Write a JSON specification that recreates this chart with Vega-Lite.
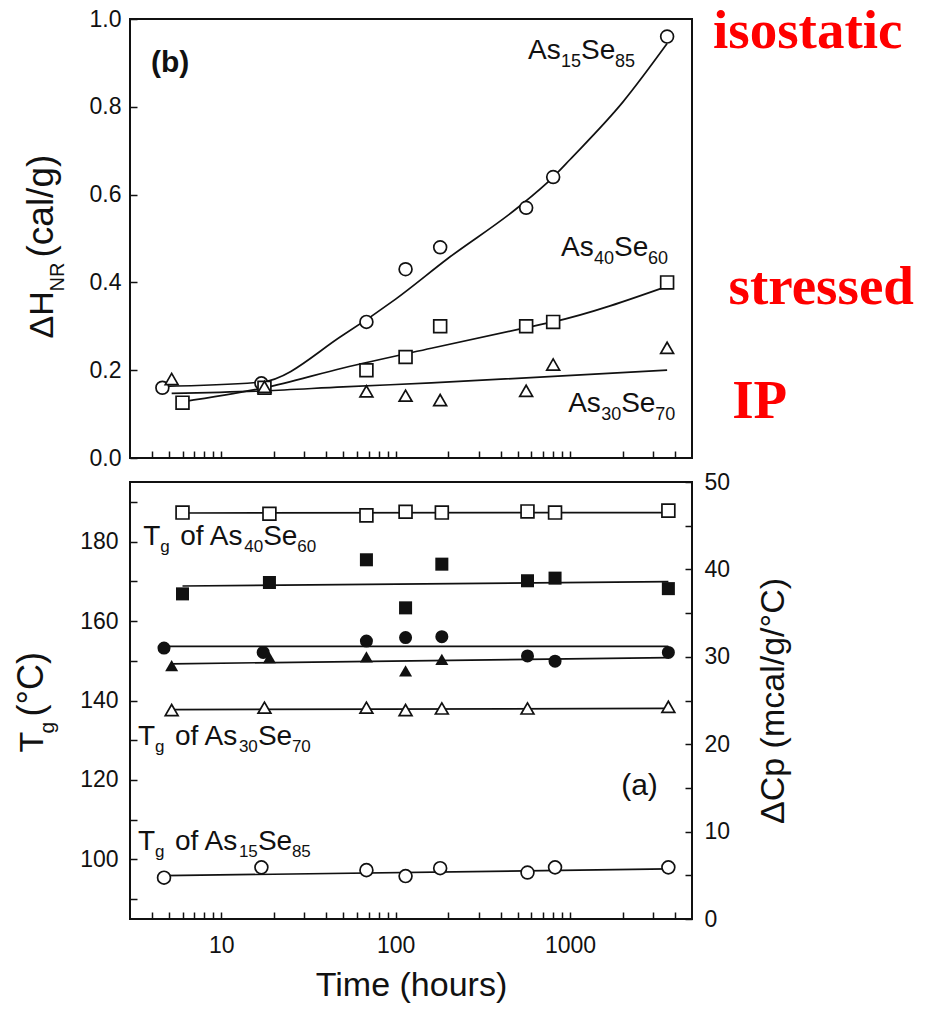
{
  "$schema": "https://vega.github.io/schema/vega-lite/v6.json",
  "background": "white",
  "padding": {"left": 12, "top": 2, "right": 5, "bottom": 3},
  "spacing": 24,
  "bounds": "flush",
  "config": {
    "font": "Liberation Sans",
    "view": {"stroke": "#111", "strokeWidth": 2},
    "axis": {
      "grid": false,
      "domain": false,
      "offset": -7,
      "tickColor": "#111",
      "tickSize": 7,
      "tickWidth": 1.5,
      "labelFont": "Liberation Sans",
      "labelFontSize": 23,
      "labelColor": "#111",
      "labelPadding": 12,
      "titleFont": "Liberation Sans",
      "titleFontSize": 34,
      "titleFontWeight": "normal",
      "titleColor": "#111"
    }
  },
  "datasets": {
    "dh": [
      {"series": "As15Se85", "time": 4.6, "dh": 0.16},
      {"series": "As15Se85", "time": 17, "dh": 0.17},
      {"series": "As15Se85", "time": 68, "dh": 0.31},
      {"series": "As15Se85", "time": 114, "dh": 0.43},
      {"series": "As15Se85", "time": 180, "dh": 0.48},
      {"series": "As15Se85", "time": 560, "dh": 0.57},
      {"series": "As15Se85", "time": 800, "dh": 0.64},
      {"series": "As15Se85", "time": 3600, "dh": 0.96},
      {"series": "As40Se60", "time": 6, "dh": 0.126},
      {"series": "As40Se60", "time": 17.7, "dh": 0.16},
      {"series": "As40Se60", "time": 68, "dh": 0.2},
      {"series": "As40Se60", "time": 114, "dh": 0.23},
      {"series": "As40Se60", "time": 180, "dh": 0.3},
      {"series": "As40Se60", "time": 560, "dh": 0.3},
      {"series": "As40Se60", "time": 800, "dh": 0.31},
      {"series": "As40Se60", "time": 3600, "dh": 0.4},
      {"series": "As30Se70", "time": 5.2, "dh": 0.18},
      {"series": "As30Se70", "time": 17.7, "dh": 0.162},
      {"series": "As30Se70", "time": 68, "dh": 0.152},
      {"series": "As30Se70", "time": 114, "dh": 0.142},
      {"series": "As30Se70", "time": 180, "dh": 0.132},
      {"series": "As30Se70", "time": 560, "dh": 0.153},
      {"series": "As30Se70", "time": 800, "dh": 0.213},
      {"series": "As30Se70", "time": 3600, "dh": 0.251}
    ],
    "dhfit": [
      {"series": "As15Se85", "time": 4.6, "dh": 0.163},
      {"series": "As15Se85", "time": 17, "dh": 0.173},
      {"series": "As15Se85", "time": 50, "dh": 0.28},
      {"series": "As15Se85", "time": 100, "dh": 0.362},
      {"series": "As15Se85", "time": 200, "dh": 0.455},
      {"series": "As15Se85", "time": 500, "dh": 0.57},
      {"series": "As15Se85", "time": 800, "dh": 0.64},
      {"series": "As15Se85", "time": 1000, "dh": 0.68},
      {"series": "As15Se85", "time": 2000, "dh": 0.81},
      {"series": "As15Se85", "time": 3600, "dh": 0.944},
      {"series": "As40Se60", "time": 6, "dh": 0.128},
      {"series": "As40Se60", "time": 17.7, "dh": 0.16},
      {"series": "As40Se60", "time": 50, "dh": 0.205},
      {"series": "As40Se60", "time": 160, "dh": 0.25},
      {"series": "As40Se60", "time": 560, "dh": 0.297},
      {"series": "As40Se60", "time": 800, "dh": 0.31},
      {"series": "As40Se60", "time": 3600, "dh": 0.391},
      {"series": "As30Se70", "time": 5.2, "dh": 0.147},
      {"series": "As30Se70", "time": 17.7, "dh": 0.153},
      {"series": "As30Se70", "time": 50, "dh": 0.162},
      {"series": "As30Se70", "time": 160, "dh": 0.171},
      {"series": "As30Se70", "time": 3600, "dh": 0.2}
    ],
    "dhlab": [
      {"time": 574, "dh": 0.91, "n1": "15", "n2": "85"},
      {"time": 887, "dh": 0.46, "n1": "40", "n2": "60"},
      {"time": 975, "dh": 0.105, "n1": "30", "n2": "70"}
    ],
    "regime": [
      {"time": 6600, "dh": 0.935, "label": "isostatic"},
      {"time": 8100, "dh": 0.35, "label": "stressed"},
      {"time": 8500, "dh": 0.09, "label": "IP"}
    ],
    "panelb": [{"time": 3.96, "dh": 0.88, "label": "(b)"}],
    "tg": [
      {"series": "As40Se60", "time": 6, "tg": 187.3},
      {"series": "As40Se60", "time": 18.9, "tg": 187.0},
      {"series": "As40Se60", "time": 68, "tg": 186.6},
      {"series": "As40Se60", "time": 114, "tg": 187.5},
      {"series": "As40Se60", "time": 184, "tg": 187.3},
      {"series": "As40Se60", "time": 570, "tg": 187.6},
      {"series": "As40Se60", "time": 820, "tg": 187.3},
      {"series": "As40Se60", "time": 3660, "tg": 187.8},
      {"series": "As30Se70", "time": 5.2, "tg": 137.6},
      {"series": "As30Se70", "time": 17.7, "tg": 138.2},
      {"series": "As30Se70", "time": 68, "tg": 138.2},
      {"series": "As30Se70", "time": 114, "tg": 137.6},
      {"series": "As30Se70", "time": 184, "tg": 138.0},
      {"series": "As30Se70", "time": 570, "tg": 138.0},
      {"series": "As30Se70", "time": 3660, "tg": 138.4},
      {"series": "As15Se85", "time": 4.7, "tg": 95.4},
      {"series": "As15Se85", "time": 17, "tg": 98.0},
      {"series": "As15Se85", "time": 68, "tg": 97.3},
      {"series": "As15Se85", "time": 114, "tg": 95.8},
      {"series": "As15Se85", "time": 180, "tg": 97.8},
      {"series": "As15Se85", "time": 570, "tg": 96.7},
      {"series": "As15Se85", "time": 820, "tg": 98.0},
      {"series": "As15Se85", "time": 3660, "tg": 98.0}
    ],
    "tgfit": [
      {"series": "As40Se60", "time": 6, "tg": 187.2},
      {"series": "As40Se60", "time": 3660, "tg": 187.3},
      {"series": "As30Se70", "time": 5.2, "tg": 137.7},
      {"series": "As30Se70", "time": 3660, "tg": 138.0},
      {"series": "As15Se85", "time": 4.7, "tg": 95.9},
      {"series": "As15Se85", "time": 3660, "tg": 97.6}
    ],
    "tglab": [
      {"time": 3.57, "tg": 179.1, "n1": "40", "n2": "60"},
      {"time": 3.33, "tg": 128.7, "n1": "30", "n2": "70"},
      {"time": 3.33, "tg": 102.4, "n1": "15", "n2": "85"}
    ],
    "panela": [{"time": 1963, "tg": 116.2, "label": "(a)"}],
    "cp": [
      {"series": "As40Se60", "time": 6, "cp": 37.2},
      {"series": "As40Se60", "time": 18.9, "cp": 38.5},
      {"series": "As40Se60", "time": 68, "cp": 41.1},
      {"series": "As40Se60", "time": 114, "cp": 35.6},
      {"series": "As40Se60", "time": 184, "cp": 40.6},
      {"series": "As40Se60", "time": 570, "cp": 38.7},
      {"series": "As40Se60", "time": 820, "cp": 39.0},
      {"series": "As40Se60", "time": 3660, "cp": 37.8},
      {"series": "As30Se70", "time": 5.2, "cp": 29.0},
      {"series": "As30Se70", "time": 18.9, "cp": 29.9},
      {"series": "As30Se70", "time": 68, "cp": 30.0},
      {"series": "As30Se70", "time": 114, "cp": 28.4},
      {"series": "As30Se70", "time": 184, "cp": 29.7},
      {"series": "As15Se85", "time": 4.7, "cp": 31.0},
      {"series": "As15Se85", "time": 17.4, "cp": 30.5},
      {"series": "As15Se85", "time": 68, "cp": 31.8},
      {"series": "As15Se85", "time": 114, "cp": 32.2},
      {"series": "As15Se85", "time": 184, "cp": 32.3},
      {"series": "As15Se85", "time": 570, "cp": 30.1},
      {"series": "As15Se85", "time": 820, "cp": 29.5},
      {"series": "As15Se85", "time": 3660, "cp": 30.5}
    ],
    "cpfit": [
      {"series": "As40Se60", "time": 6, "cp": 38.1},
      {"series": "As40Se60", "time": 3660, "cp": 38.6},
      {"series": "As30Se70", "time": 5.2, "cp": 29.2},
      {"series": "As30Se70", "time": 3660, "cp": 29.9},
      {"series": "As15Se85", "time": 4.7, "cp": 31.2},
      {"series": "As15Se85", "time": 3660, "cp": 31.2}
    ]
  },
  "vconcat": [
    {
      "width": 562,
      "height": 439,
      "resolve": {"axis": {"y": "independent"}},
      "layer": [
        {
          "data": {"name": "dhfit"},
          "mark": {"type": "line", "interpolate": "monotone", "color": "#111", "strokeWidth": 1.7},
          "encoding": {
            "x": {"field": "time", "type": "quantitative", "scale": {"type": "log", "domain": [3, 5000]},
              "axis": {"values": [4,5,6,7,8,9,10,20,30,40,50,60,70,80,90,100,200,300,400,500,600,700,800,900,1000,2000,3000,4000], "labels": false, "title": null}},
            "y": {"field": "dh", "type": "quantitative", "scale": {"domain": [0, 1]},
              "axis": {"orient": "left", "values": [0, 0.2, 0.4, 0.6, 0.8, 1.0], "format": ".1f", "labelPadding": 9,
                "title": "ΔH", "titleFontSize": 34, "titleAngle": 270, "titleAlign": "left", "titleBaseline": "alphabetic", "titleX": -85, "titleY": 319}},
            "detail": {"field": "series"}
          }
        },
        {
          "data": {"name": "dh"},
          "mark": {"type": "point", "filled": true, "fill": "white", "stroke": "#111", "strokeWidth": 1.7, "size": 165, "opacity": 1},
          "encoding": {
            "x": {"field": "time", "type": "quantitative", "scale": {"type": "log", "domain": [3, 5000]}},
            "y": {"field": "dh", "type": "quantitative", "scale": {"domain": [0, 1]},
              "axis": {"orient": "left", "labels": false, "ticks": false, "title": "NR", "titleFontSize": 20, "titleAngle": 270, "titleAlign": "left", "titleBaseline": "alphabetic", "titleX": -74, "titleY": 272}},
            "shape": {"field": "series", "type": "nominal", "legend": null,
              "scale": {"domain": ["As15Se85", "As40Se60", "As30Se70"], "range": ["circle", "square", "triangle-up"]}}
          }
        },
        {
          "data": {"name": "dhlab"},
          "mark": {"type": "text", "align": "left", "baseline": "alphabetic", "fontSize": 28, "color": "#111", "text": "As"},
          "encoding": {
            "x": {"field": "time", "type": "quantitative", "scale": {"type": "log", "domain": [3, 5000]}},
            "y": {"field": "dh", "type": "quantitative", "scale": {"domain": [0, 1]},
              "axis": {"orient": "left", "labels": false, "ticks": false, "title": "(cal/g)", "titleFontSize": 37, "titleAngle": 270, "titleAlign": "left", "titleBaseline": "alphabetic", "titleX": -85, "titleY": 238}}
          }
        },
        {
          "data": {"name": "dhlab"},
          "mark": {"type": "text", "align": "left", "baseline": "alphabetic", "fontSize": 18, "color": "#111", "dx": 33, "dy": 8},
          "encoding": {
            "x": {"field": "time", "type": "quantitative", "scale": {"type": "log", "domain": [3, 5000]}},
            "y": {"field": "dh", "type": "quantitative", "scale": {"domain": [0, 1]}, "axis": null},
            "text": {"field": "n1"}
          }
        },
        {
          "data": {"name": "dhlab"},
          "mark": {"type": "text", "align": "left", "baseline": "alphabetic", "fontSize": 28, "color": "#111", "text": "Se", "dx": 53},
          "encoding": {
            "x": {"field": "time", "type": "quantitative", "scale": {"type": "log", "domain": [3, 5000]}},
            "y": {"field": "dh", "type": "quantitative", "scale": {"domain": [0, 1]}, "axis": null}
          }
        },
        {
          "data": {"name": "dhlab"},
          "mark": {"type": "text", "align": "left", "baseline": "alphabetic", "fontSize": 18, "color": "#111", "dx": 87, "dy": 8},
          "encoding": {
            "x": {"field": "time", "type": "quantitative", "scale": {"type": "log", "domain": [3, 5000]}},
            "y": {"field": "dh", "type": "quantitative", "scale": {"domain": [0, 1]}, "axis": null},
            "text": {"field": "n2"}
          }
        },
        {
          "data": {"name": "panelb"},
          "mark": {"type": "text", "align": "left", "baseline": "alphabetic", "fontSize": 30, "fontWeight": "bold", "color": "#111"},
          "encoding": {
            "x": {"field": "time", "type": "quantitative", "scale": {"type": "log", "domain": [3, 5000]}},
            "y": {"field": "dh", "type": "quantitative", "scale": {"domain": [0, 1]}, "axis": null},
            "text": {"field": "label"}
          }
        },
        {
          "data": {"name": "regime"},
          "mark": {"type": "text", "align": "left", "baseline": "alphabetic", "font": "Liberation Serif", "fontSize": 55, "fontWeight": "bold", "color": "#ff0000"},
          "encoding": {
            "x": {"field": "time", "type": "quantitative", "scale": {"type": "log", "domain": [3, 5000]}},
            "y": {"field": "dh", "type": "quantitative", "scale": {"domain": [0, 1]}, "axis": null},
            "text": {"field": "label"}
          }
        }
      ]
    },
    {
      "width": 562,
      "height": 437,
      "resolve": {"scale": {"y": "independent"}, "axis": {"y": "independent"}},
      "layer": [
        {
          "resolve": {"axis": {"y": "independent"}},
          "layer": [
            {
              "data": {"name": "tgfit"},
              "mark": {"type": "line", "color": "#111", "strokeWidth": 1.7},
              "encoding": {
                "x": {"field": "time", "type": "quantitative", "scale": {"type": "log", "domain": [3, 5000]},
                  "axis": {"values": [4,5,6,7,8,9,10,20,30,40,50,60,70,80,90,100,200,300,400,500,600,700,800,900,1000,2000,3000,4000],
                    "labelExpr": "datum.value == 10 || datum.value == 100 || datum.value == 1000 ? format(datum.value, 'd') : ''",
                    "labelPadding": 15, "title": "Time (hours)", "titlePadding": 11}},
                "y": {"field": "tg", "type": "quantitative", "scale": {"domain": [85, 195]},
                  "axis": {"orient": "left", "values": [90,100,110,120,130,140,150,160,170,180,190],
                    "labelExpr": "datum.value % 20 == 0 ? datum.label : ''", "labelPadding": 12,
                    "title": "T", "titleAngle": 270, "titleAlign": "left", "titleBaseline": "alphabetic", "titleX": -95, "titleY": 270}},
                "detail": {"field": "series"}
              }
            },
            {
              "data": {"name": "tg"},
              "mark": {"type": "point", "filled": true, "fill": "white", "stroke": "#111", "strokeWidth": 1.7, "size": 165, "opacity": 1},
              "encoding": {
                "x": {"field": "time", "type": "quantitative", "scale": {"type": "log", "domain": [3, 5000]}},
                "y": {"field": "tg", "type": "quantitative", "scale": {"domain": [85, 195]},
                  "axis": {"orient": "left", "labels": false, "ticks": false, "title": "g", "titleFontSize": 21, "titleAngle": 270, "titleAlign": "left", "titleBaseline": "alphabetic", "titleX": -84, "titleY": 251}},
                "shape": {"field": "series", "type": "nominal", "legend": null,
                  "scale": {"domain": ["As15Se85", "As40Se60", "As30Se70"], "range": ["circle", "square", "triangle-up"]}}
              }
            },
            {
              "data": {"name": "tglab"},
              "mark": {"type": "text", "align": "left", "baseline": "alphabetic", "fontSize": 28, "color": "#111", "text": "T"},
              "encoding": {
                "x": {"field": "time", "type": "quantitative", "scale": {"type": "log", "domain": [3, 5000]}},
                "y": {"field": "tg", "type": "quantitative", "scale": {"domain": [85, 195]},
                  "axis": {"orient": "left", "labels": false, "ticks": false, "title": "(°C)", "titleFontSize": 36, "titleAngle": 270, "titleAlign": "left", "titleBaseline": "alphabetic", "titleX": -95, "titleY": 234}}
              }
            },
            {
              "data": {"name": "tglab"},
              "mark": {"type": "text", "align": "left", "baseline": "alphabetic", "fontSize": 17, "color": "#111", "text": "g", "dx": 17, "dy": 7},
              "encoding": {
                "x": {"field": "time", "type": "quantitative", "scale": {"type": "log", "domain": [3, 5000]}},
                "y": {"field": "tg", "type": "quantitative", "scale": {"domain": [85, 195]}, "axis": null}
              }
            },
            {
              "data": {"name": "tglab"},
              "mark": {"type": "text", "align": "left", "baseline": "alphabetic", "fontSize": 28, "color": "#111", "text": "of As", "dx": 37},
              "encoding": {
                "x": {"field": "time", "type": "quantitative", "scale": {"type": "log", "domain": [3, 5000]}},
                "y": {"field": "tg", "type": "quantitative", "scale": {"domain": [85, 195]}, "axis": null}
              }
            },
            {
              "data": {"name": "tglab"},
              "mark": {"type": "text", "align": "left", "baseline": "alphabetic", "fontSize": 17, "color": "#111", "dx": 101, "dy": 7},
              "encoding": {
                "x": {"field": "time", "type": "quantitative", "scale": {"type": "log", "domain": [3, 5000]}},
                "y": {"field": "tg", "type": "quantitative", "scale": {"domain": [85, 195]}, "axis": null},
                "text": {"field": "n1"}
              }
            },
            {
              "data": {"name": "tglab"},
              "mark": {"type": "text", "align": "left", "baseline": "alphabetic", "fontSize": 28, "color": "#111", "text": "Se", "dx": 120},
              "encoding": {
                "x": {"field": "time", "type": "quantitative", "scale": {"type": "log", "domain": [3, 5000]}},
                "y": {"field": "tg", "type": "quantitative", "scale": {"domain": [85, 195]}, "axis": null}
              }
            },
            {
              "data": {"name": "tglab"},
              "mark": {"type": "text", "align": "left", "baseline": "alphabetic", "fontSize": 17, "color": "#111", "dx": 154, "dy": 7},
              "encoding": {
                "x": {"field": "time", "type": "quantitative", "scale": {"type": "log", "domain": [3, 5000]}},
                "y": {"field": "tg", "type": "quantitative", "scale": {"domain": [85, 195]}, "axis": null},
                "text": {"field": "n2"}
              }
            },
            {
              "data": {"name": "panela"},
              "mark": {"type": "text", "align": "left", "baseline": "alphabetic", "fontSize": 30, "color": "#111"},
              "encoding": {
                "x": {"field": "time", "type": "quantitative", "scale": {"type": "log", "domain": [3, 5000]}},
                "y": {"field": "tg", "type": "quantitative", "scale": {"domain": [85, 195]}, "axis": null},
                "text": {"field": "label"}
              }
            }
          ]
        },
        {
          "layer": [
            {
              "data": {"name": "cpfit"},
              "mark": {"type": "line", "color": "#111", "strokeWidth": 1.7},
              "encoding": {
                "x": {"field": "time", "type": "quantitative", "scale": {"type": "log", "domain": [3, 5000]}},
                "y": {"field": "cp", "type": "quantitative", "scale": {"domain": [0, 50]},
                  "axis": {"orient": "right", "values": [0,5,10,15,20,25,30,35,40,45,50],
                    "labelExpr": "datum.value % 10 == 0 ? datum.label : ''", "labelPadding": 12,
                    "title": "ΔCp (mcal/g/°C)", "titleAngle": 270, "titleBaseline": "alphabetic", "titleX": 98}},
                "detail": {"field": "series"}
              }
            },
            {
              "data": {"name": "cp"},
              "mark": {"type": "point", "filled": true, "color": "#111", "size": 170, "opacity": 1},
              "encoding": {
                "x": {"field": "time", "type": "quantitative", "scale": {"type": "log", "domain": [3, 5000]}},
                "y": {"field": "cp", "type": "quantitative", "scale": {"domain": [0, 50]}},
                "shape": {"field": "series", "type": "nominal", "legend": null,
                  "scale": {"domain": ["As15Se85", "As40Se60", "As30Se70"], "range": ["circle", "square", "triangle-up"]}}
              }
            }
          ]
        }
      ]
    }
  ]
}
